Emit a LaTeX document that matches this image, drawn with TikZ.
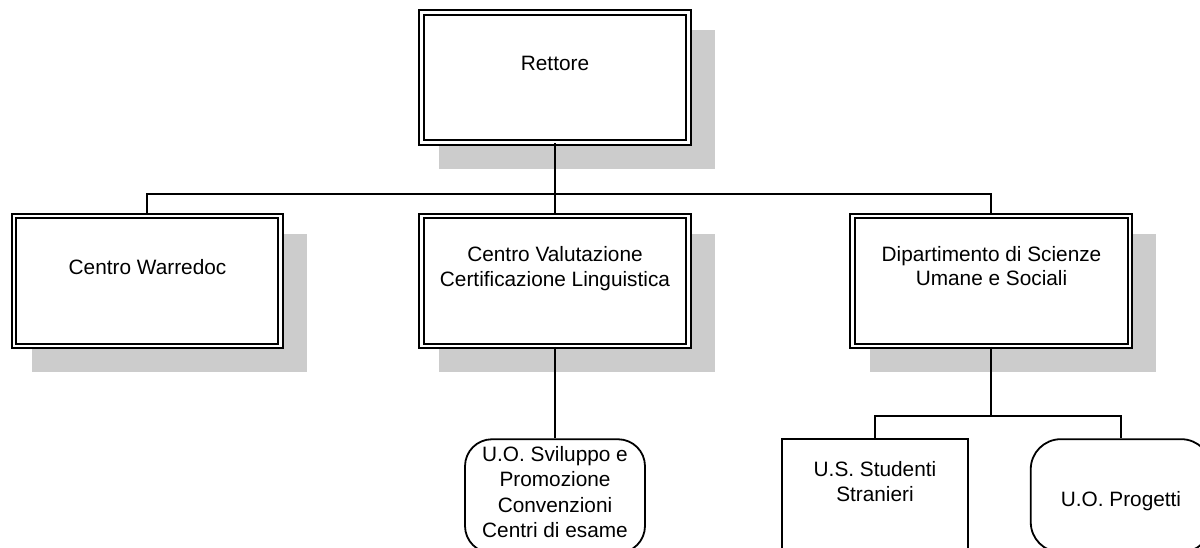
\documentclass[tikz,border=0pt]{standalone}
\usepackage{fontspec}
\setmainfont{Liberation Sans}
\usetikzlibrary{backgrounds}

\tikzset{
  % boxes with a double frame and a flat grey drop shadow
  unitbox/.style={draw=black, line width=2pt, double=white, double distance=2.6pt,
    fill=white, inner sep=0pt, minimum height=130pt},
  plainbox/.style={draw=black, line width=1.8pt, fill=white, inner sep=0pt},
  roundbox/.style={plainbox, rounded corners=#1},
  lbl/.style={align=center, inner sep=0pt, font=\fontsize{20.8}{24.3}\selectfont},
  lblsub/.style={align=center, inner sep=0pt, font=\fontsize{20.8}{25.4}\selectfont},
  conn/.style={draw=black, line width=1.8pt},
  shade/.style={fill=black!20},
}

% grey shadow behind a framed box
\newcommand{\boxshade}[1]{%
  \fill[shade] ([shift={(18.7pt,-18.7pt)}]#1.north west)
    rectangle ([shift={(25.3pt,-25.3pt)}]#1.south east);}

\begin{document}
\begin{tikzpicture}[x=1pt,y=-1pt]
  \useasboundingbox (0,0) rectangle (1200,548);
  \clip (0,0) rectangle (1200,548);

  % top level
  \node[unitbox, minimum width=266.5pt] (rettore) at (555,77.25) {};
  \node[lbl] (rettore-t) at (555,63.5) {Rettore};

  % second level
  \node[unitbox, minimum width=266.2pt] (warredoc) at (147.1,280.9) {};
  \node[lbl] (warredoc-t) at (147.5,266.8) {Centro Warredoc};

  \node[unitbox, minimum width=266.5pt] (cvcl) at (555,280.9) {};
  \node[lbl] (cvcl-t) at (555,268.5) {Centro Valutazione\\Certificazione Linguistica};

  \node[unitbox, minimum width=277.8pt] (dip) at (991.1,280.9) {};
  \node[lbl] (dip-t) at (991.5,266.4) {Dipartimento di Scienze\\Umane e Sociali};

  % shadows
  \begin{scope}[on background layer]
    \boxshade{rettore}
    \boxshade{warredoc}
    \boxshade{cvcl}
    \boxshade{dip}
  \end{scope}

  % third level
  \node[roundbox=27pt, minimum width=180pt, minimum height=113.7pt] (uosv) at (555,496.1) {};
  \node[lblsub] (uosv-t) at (555,492) {U.O. Sviluppo e\\Promozione\\Convenzioni\\Centri di esame};

  \node[plainbox, minimum width=186.4pt, minimum height=121pt] (usst) at (875,499.7) {};
  \node[lblsub] (usst-t) at (875,481.4) {U.S. Studenti\\Stranieri};

  \node[roundbox=30pt, minimum width=180.5pt, minimum height=113pt] (uoprog) at (1121,495.7) {};
  \node[lblsub] (uoprog-t) at (1121,500.7) {U.O. Progetti};

  % connectors
  \coordinate (bus) at (555,194);
  \coordinate (dbus) at (991.1,416);
  \draw[conn] (rettore.south) -- (bus);
  \draw[conn] (warredoc.north) |- (bus) -| (dip.north);
  \draw[conn] (bus) -- (cvcl.north);
  \draw[conn] (cvcl.south) -- (uosv.north);
  \draw[conn] (dip.south) -- (dbus);
  \draw[conn] (usst.north) |- (dbus) -| (uoprog.north);
\end{tikzpicture}
\end{document}
